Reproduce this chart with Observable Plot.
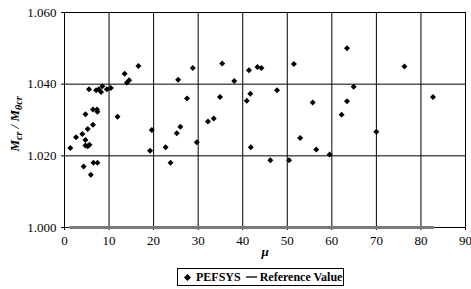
<!DOCTYPE html>
<html>
<head>
<meta charset="utf-8">
<script src="https://cdn.jsdelivr.net/npm/d3@7"></script>
<script src="https://cdn.jsdelivr.net/npm/@observablehq/plot@0.6"></script>
<style>
  html, body { margin: 0; padding: 0; background: white; }
  #wrap { position: relative; width: 471px; height: 289px; }
  #legend {
    position: absolute; left: 177px; top: 268px; width: 165px; height: 16px;
    border: 1px solid black; font-family: "Liberation Serif", "Times New Roman", serif; font-weight: bold;
    font-size: 12px; display: flex; align-items: center; white-space: nowrap; box-sizing: content-box;
  }
  #legend .dia { display: inline-block; width: 5px; height: 5px; background: black; transform: rotate(45deg); margin-left: 7px; margin-right: 6px; }
  #legend .ln { display: inline-block; width: 11px; height: 2px; background: #555; margin-left: 5px; margin-right: 3px; }
  svg text { font-family: "Liberation Serif", "Times New Roman", serif; }
</style>
</head>
<body>
<div id="wrap">
  <div id="chart"></div>
  <div id="legend"><span class="dia"></span><span>PEFSYS</span><span class="ln"></span><span>Reference Value</span></div>
</div>
<script>
const mu = [1.3, 2.6, 4.0, 4.3, 4.7, 4.7, 5.2, 5.6, 5.2, 5.9, 6.4, 4.7, 6.4, 7.3, 7.4, 6.5, 7.4, 5.5, 7.1, 7.7,
  8.2, 8.5, 9.5, 10.4, 11.9, 13.5, 14.0, 14.5, 16.6, 19.6, 19.2, 22.7, 23.8, 25.2, 26.0, 25.5, 27.5, 28.8, 29.7, 32.2,
  33.5, 34.9, 35.4, 38.1, 40.9, 41.7, 41.4, 41.8, 43.3, 44.2, 46.2, 47.7, 50.4, 51.5, 52.9, 55.7, 56.5, 59.5, 62.2, 63.4,
  63.4, 64.9, 70.0, 76.3, 82.7];
const ratio = [1.0222, 1.0252, 1.0261, 1.0170, 1.0244, 1.0229, 1.0227, 1.0231, 1.0275, 1.0147, 1.0287, 1.0316, 1.0329, 1.0329, 1.0323, 1.0181, 1.0181, 1.0386, 1.0383, 1.0386,
  1.0378, 1.0394, 1.0386, 1.0389, 1.0309, 1.0429, 1.0404, 1.0411, 1.0451, 1.0272, 1.0214, 1.0224, 1.0181, 1.0263, 1.0281, 1.0412, 1.0360, 1.0445, 1.0238, 1.0296,
  1.0304, 1.0364, 1.0458, 1.0409, 1.0354, 1.0373, 1.0439, 1.0224, 1.0448, 1.0445, 1.0188, 1.0383, 1.0188, 1.0456, 1.0250, 1.0349, 1.0218, 1.0204, 1.0315, 1.0352,
  1.0500, 1.0393, 1.0267, 1.0449, 1.0364];
const referenceValue = 1.000;
const xTicks = [0, 10, 20, 30, 40, 50, 60, 70, 80, 90];
const yTicks = [1.000, 1.020, 1.040, 1.060];
const xLabel = "μ";

const points = mu.map((m, i) => ({mu: m, r: ratio[i]}));
const refLine = d3.extent(mu).map(m => ({mu: m, r: referenceValue}));

const chart = Plot.plot({
  width: 471,
  height: 262,
  marginLeft: 64,
  marginRight: 6,
  marginTop: 12,
  marginBottom: 35,
  style: {fontFamily: "'Liberation Serif', 'Times New Roman', serif", fontSize: "13px", color: "black", background: "white"},
  x: {domain: [0, 90], ticks: xTicks},
  y: {domain: [1.000, 1.060], ticks: yTicks, tickFormat: d3.format(".3f")},
  marks: [
    Plot.gridX(xTicks, {stroke: "black", strokeOpacity: 1}),
    Plot.gridY(yTicks, {stroke: "black", strokeOpacity: 1}),
    Plot.frame({stroke: "black"}),
    Plot.axisX(xTicks, {tickSize: 3, tickPadding: 5, label: null, stroke: "black"}),
    Plot.axisY(yTicks, {tickSize: 3, tickPadding: 5, label: null, tickFormat: d3.format(".3f"), stroke: "black"}),
    Plot.line(refLine, {x: "mu", y: "r", stroke: "#7a7a7a", strokeWidth: 3}),
    Plot.dot(points, {x: "mu", y: "r", symbol: "diamond2", r: 2.7, fill: "black", stroke: "none"}),
    Plot.text([xLabel], {frameAnchor: "bottom", dy: 28, text: d => d, fontWeight: "bold", fontStyle: "italic", fontSize: 13})
  ]
});
document.getElementById("chart").appendChild(chart);

// y-axis label with subscripts
const svg = d3.select(chart);
const t = svg.append("text")
  .attr("transform", "translate(19,124) rotate(-90)")
  .attr("text-anchor", "middle")
  .attr("font-size", 13)
  .attr("font-weight", "bold")
  .attr("font-style", "italic")
  .attr("fill", "black");
t.append("tspan").text("M");
t.append("tspan").attr("font-size", 10).attr("dy", 3).text("cr");
t.append("tspan").attr("dy", -3).text(" / M");
t.append("tspan").attr("font-size", 10).attr("dy", 3).text("θcr");
</script>
</body>
</html>
